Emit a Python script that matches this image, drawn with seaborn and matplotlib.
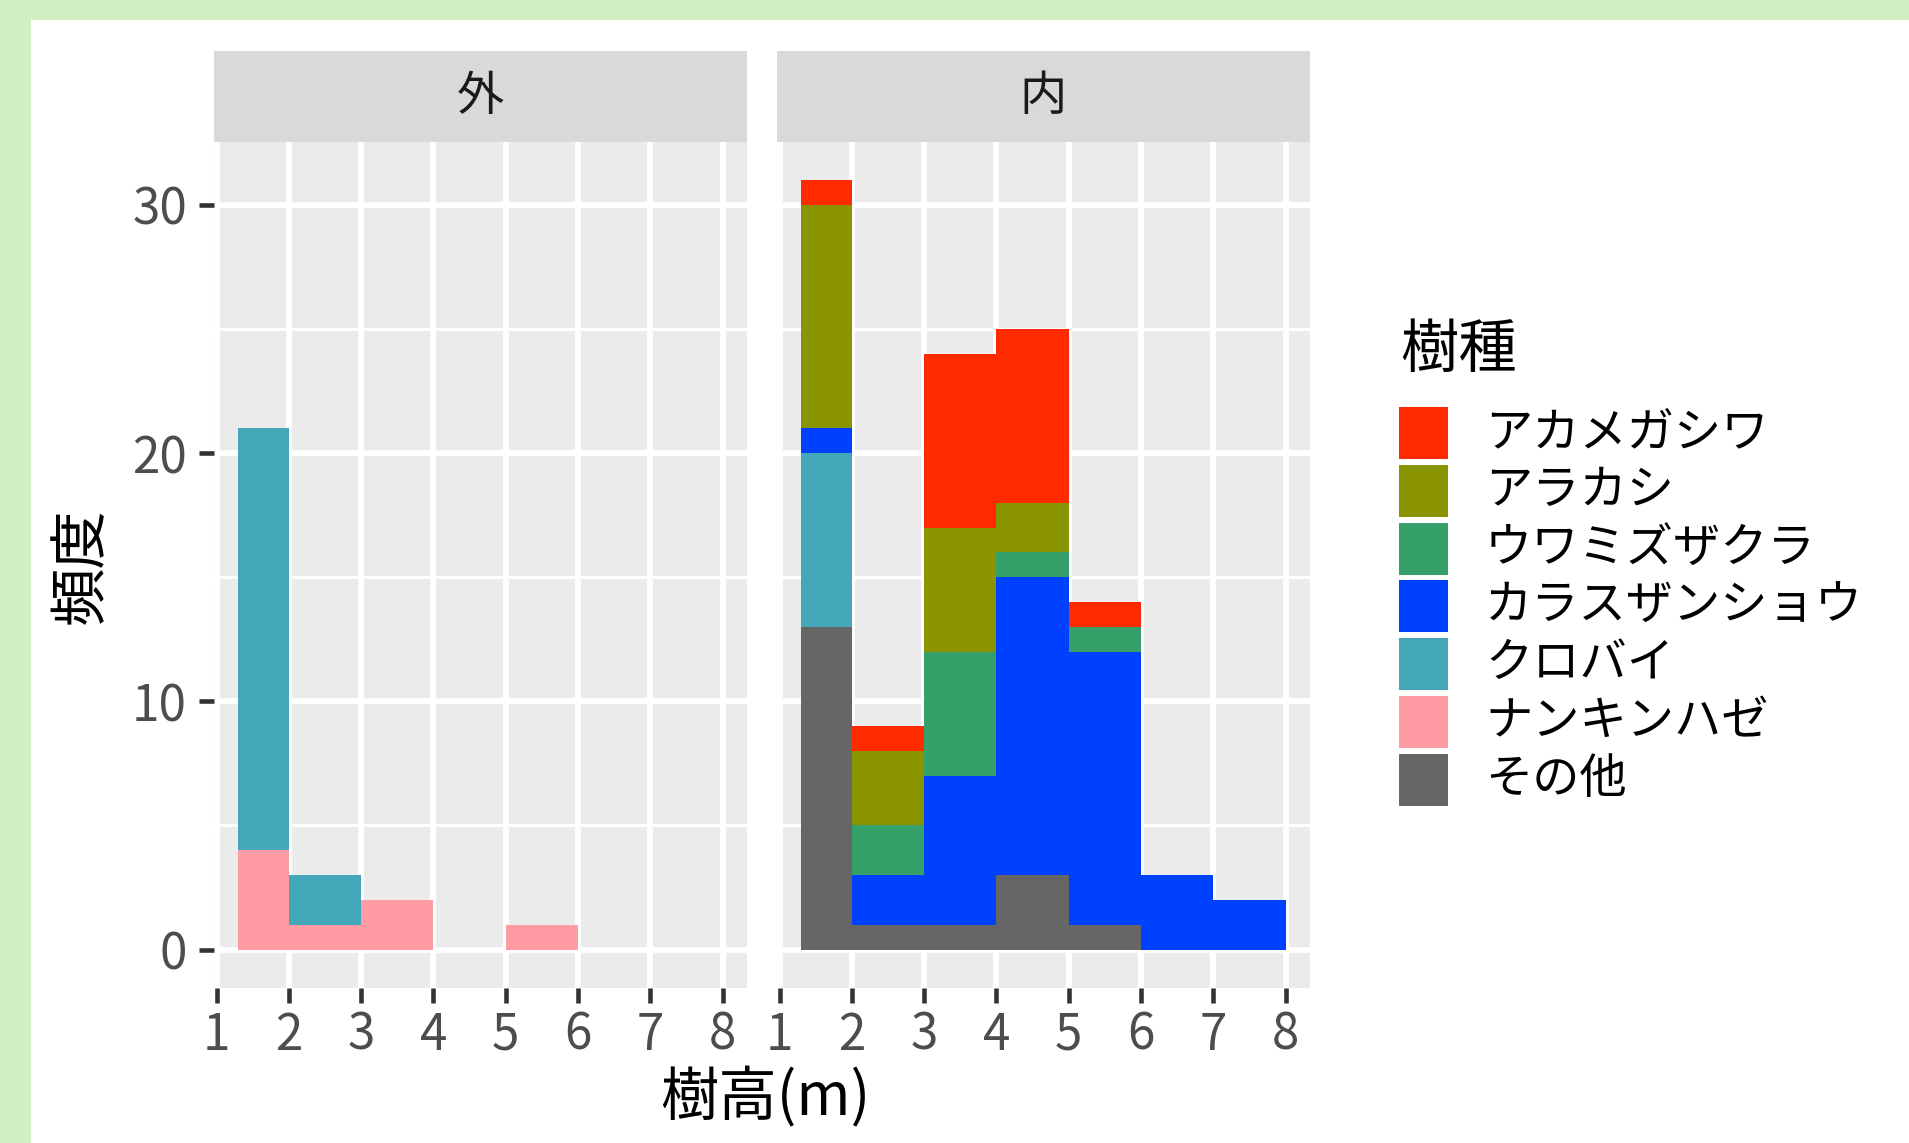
import matplotlib
matplotlib.use('Agg')
import matplotlib.pyplot as plt
import seaborn as sns
import pandas as pd
from matplotlib.patches import Rectangle

# ---------------- data ----------------
species = ['アカメガシワ', 'アラカシ', 'ウワミズザクラ', 'カラスザンショウ', 'クロバイ', 'ナンキンハゼ', 'その他']
colors = ['#FF2A00', '#8A9400', '#36A06A', '#0040FF', '#43A8BA', '#FF9BA3', '#666666']
panels = ['外', '内']
bin_edges = [1.3, 2, 3, 4, 5, 6, 7, 8]
x_ticks = [1, 2, 3, 4, 5, 6, 7, 8]
y_ticks = [0, 10, 20, 30]

# counts per bin (1.3-2, 2-3, 3-4, 4-5, 5-6, 6-7, 7-8)
outer_counts = {
    'クロバイ':     [17, 2, 0, 0, 0, 0, 0],
    'ナンキンハゼ': [4, 1, 2, 0, 1, 0, 0],
}
inner_counts = {
    'アカメガシワ':     [1, 1, 7, 7, 1, 0, 0],
    'アラカシ':         [9, 3, 5, 2, 0, 0, 0],
    'ウワミズザクラ':   [0, 2, 5, 1, 1, 0, 0],
    'カラスザンショウ': [1, 2, 6, 12, 11, 3, 2],
    'クロバイ':         [7, 0, 0, 0, 0, 0, 0],
    'その他':           [13, 1, 1, 3, 1, 0, 0],
}

rows = []
for panel, counts in zip(panels, [outer_counts, inner_counts]):
    for sp, vals in counts.items():
        for i, n in enumerate(vals):
            if n > 0:
                mid = (bin_edges[i] + bin_edges[i + 1]) / 2
                rows.append({'区域': panel, '樹種': sp, '樹高': mid, 'n': n})
df = pd.DataFrame(rows)

# ---------------- figure ----------------
plt.rcParams['font.family'] = ['Noto Sans CJK JP', 'DejaVu Sans']
W, H = 1909, 1143
fig = plt.figure(figsize=(W / 100, H / 100), dpi=100, facecolor='#D1F0C1')
fig.patches.append(Rectangle((31 / W, 0), 1, 1 - 20 / H, transform=fig.transFigure,
                             facecolor='white', edgecolor='none', zorder=-10))

def fx(px):
    return px / W

def fy(py):
    return 1 - py / H

panel_top, panel_bot = 141.7, 988
strip_top = 51
lefts = [214, 777]
pw = 533
palette = dict(zip(species, colors))

axes = []
for k, panel in enumerate(panels):
    ax = fig.add_axes([fx(lefts[k]), fy(panel_bot), pw / W, (panel_bot - panel_top) / H])
    ax.set_facecolor('#EBEBEB')
    sub = df[df['区域'] == panel]
    sns.histplot(data=sub, x='樹高', weights='n', hue='樹種', hue_order=species,
                 palette=palette, multiple='stack', bins=bin_edges, linewidth=0,
                 alpha=1, legend=False, ax=ax)
    ax.set_xlim(0.965, 8.335)
    ax.set_ylim(-1.55, 32.55)
    ax.set_xticks(x_ticks)
    ax.set_yticks(y_ticks)
    ax.set_yticks([5, 15, 25], minor=True)
    ax.set_axisbelow(True)
    ax.grid(which='major', color='white', lw=4.2)
    ax.grid(which='minor', axis='y', color='white', lw=2.1)
    ax.set_xlabel('')
    ax.set_ylabel('')
    for s in ax.spines.values():
        s.set_visible(False)
    ax.tick_params(axis='both', which='major', length=10.5, width=3.3, color='#333333',
                   labelcolor='#4D4D4D', labelsize=35.5)
    ax.tick_params(axis='x', pad=5)
    ax.tick_params(axis='y', pad=9)
    ax.tick_params(axis='both', which='minor', length=0)
    if k == 1:
        ax.tick_params(axis='y', left=False, labelleft=False)
    # strip
    sax = fig.add_axes([fx(lefts[k]), fy(panel_top), pw / W, (panel_top - strip_top) / H])
    sax.set_facecolor('#D9D9D9')
    sax.set_xticks([])
    sax.set_yticks([])
    for s in sax.spines.values():
        s.set_visible(False)
    sax.text(0.5, 0.5, panel, ha='center', va='center', fontsize=34, color='#1A1A1A',
             transform=sax.transAxes)
    axes.append(ax)

fig.text(fx(765), fy(1099), '樹高(m)', ha='center', va='center', fontsize=42, color='black')
fig.text(fx(82), fy(566), '頻度', ha='center', va='center', fontsize=42, rotation=90,
         color='black')

# legend
fig.text(fx(1400), fy(350), '樹種', ha='left', va='center', fontsize=42, color='black')
key_w, key_h, pitch = 49.5, 52, 57.8
for i, (sp, c) in enumerate(zip(species, colors)):
    top = 407 + i * pitch
    fig.patches.append(Rectangle((fx(1398.7), fy(top + key_h)), key_w / W, key_h / H,
                                 transform=fig.transFigure, facecolor=c, edgecolor='none'))
    fig.text(fx(1485), fy(top + key_h / 2), sp, ha='left', va='center', fontsize=34,
             color='black')

fig.savefig('out.png', dpi=100, facecolor=fig.get_facecolor())
